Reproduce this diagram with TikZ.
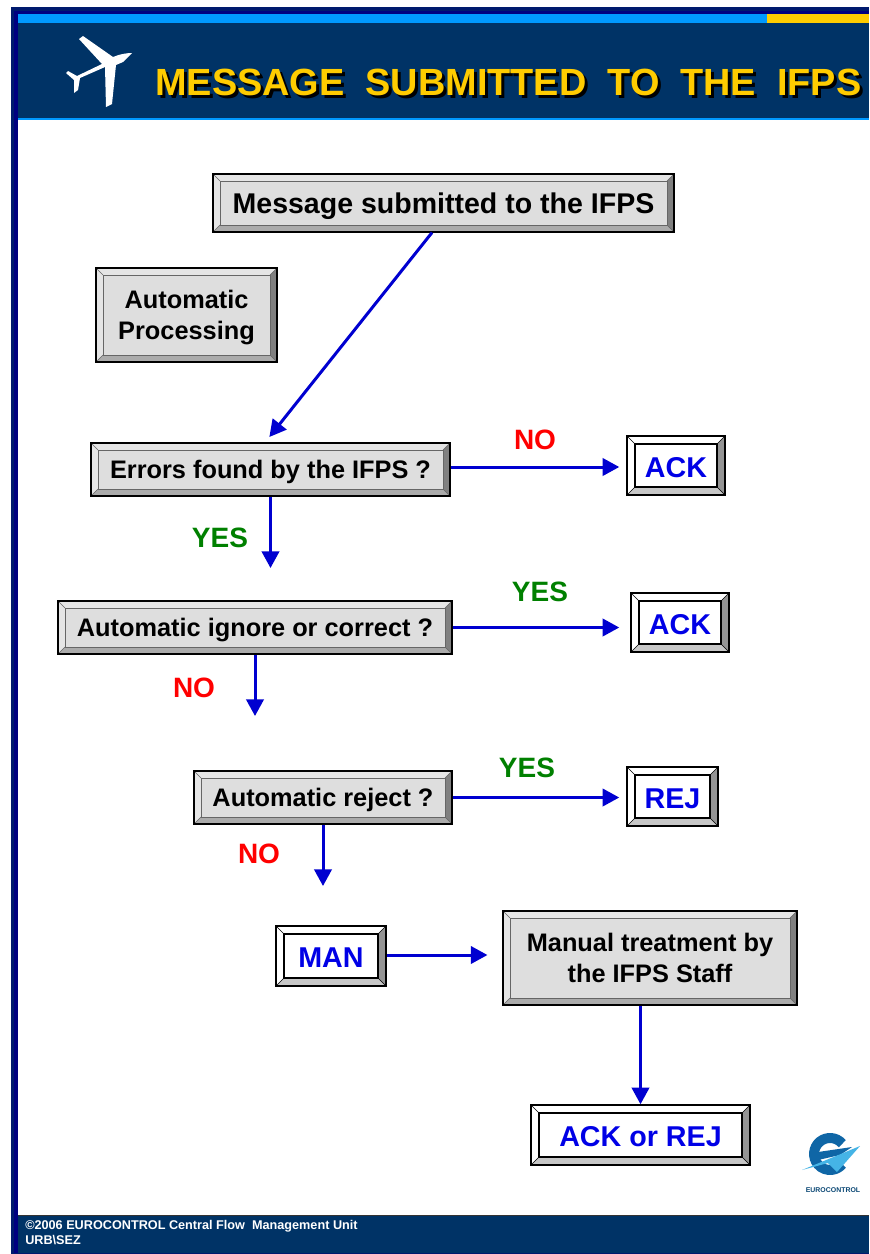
\documentclass[tikz,border=0pt]{standalone}
\usepackage{fontspec}
\setmainfont{Liberation Sans}
\usepackage{xcolor}
\usetikzlibrary{arrows.meta}
\usetikzlibrary{calc}

\definecolor{headblue}{HTML}{003366}
\definecolor{edgeblue}{HTML}{001A6E}
\definecolor{barblue}{HTML}{0099FF}
\definecolor{baryellow}{HTML}{FFCC00}
\definecolor{flowblue}{HTML}{0000D0}
\definecolor{textblue}{HTML}{0000E6}
\definecolor{okgreen}{HTML}{008000}
\definecolor{logoblue}{HTML}{0F66A6}
\definecolor{logolight}{HTML}{45B4E6}

\begin{document}
\begin{tikzpicture}[
  x=0.75pt, y=-0.75pt,
  font=\bfseries,
  sized/.style 2 args={minimum width=#1*0.75pt, minimum height=#2*0.75pt},
  bevel/.style n args={7}{path picture={
    \coordinate (nw) at (path picture bounding box.north west);
    \coordinate (ne) at (path picture bounding box.north east);
    \coordinate (sw) at (path picture bounding box.south west);
    \coordinate (se) at (path picture bounding box.south east);
    \coordinate (inw) at ($(nw)+(#1,-#1)$);
    \coordinate (ine) at ($(ne)+(-#1,-#1)$);
    \coordinate (isw) at ($(sw)+(#1,#1)$);
    \coordinate (ise) at ($(se)+(-#1,#1)$);
    \fill[#2] (nw) -- (ne) -- (ine) -- (inw) -- cycle;
    \fill[#3] (nw) -- (sw) -- (isw) -- (inw) -- cycle;
    \fill[#4] (sw) -- (se) -- (ise) -- (isw) -- cycle;
    \fill[#5] (ne) -- (se) -- (ise) -- (ine) -- cycle;
    \draw[#6, line width=#7] (inw) -- (ine) -- (ise) -- (isw) -- cycle;
    \draw[#6, line width=0.4pt] (nw) -- (inw) (ne) -- (ine) (sw) -- (isw) (se) -- (ise);
  }},
  graybox/.style={draw=black, line width=0.8pt, fill=black!13, inner sep=0pt, align=center,
    text depth=0pt, font=\bfseries\fontsize{19}{23.5}\selectfont,
    bevel={5.25pt}{black!10}{black!10}{black!33}{black!50}{black!60}{0.5pt}},
  whitebox/.style={draw=black, line width=1.1pt, fill=white, inner sep=0pt, text=textblue,
    text height=17.5pt, text depth=0pt, font=\bfseries\fontsize{21.5}{26}\selectfont,
    bevel={6pt}{white}{white}{black!22}{black!42}{black}{0.8pt}},
  answer/.style={font=\bfseries\fontsize{21}{25}\selectfont, inner sep=0pt},
  arrow/.style={-{Triangle[length=12.5pt,width=13pt]}, line width=2.25pt, flowblue},
  title/.style={anchor=base west, inner sep=0pt, font=\bfseries\fontsize{28.4}{34}\selectfont},
  foot/.style={anchor=base west, inner sep=0pt, text=white, font=\bfseries\fontsize{9.5}{11}\selectfont}
]
\useasboundingbox (0,0) rectangle (869,1254);

% --- Page frame and title band ---
\fill[edgeblue] (11,7) rectangle (869,1254);
\fill[blue!50!black] (14,11) rectangle (869,1253);
\fill[white] (18,119) rectangle (869,1215);
\fill[headblue] (18,14) rectangle (869,118);
\fill[barblue] (18,14) rectangle (767,23);
\fill[baryellow] (767,14) rectangle (869,23);
\fill[barblue] (18,118) rectangle (869,119.5);
\fill[headblue] (18,1215) rectangle (869,1253);
\draw[black!80, line width=0.6pt] (18,1215) -- (869,1215);

% --- Aeroplane ---
\fill[white] (79,39) -- (83,36) -- (113,57) .. controls (120,54) and (127,53) .. (132,53)
  -- (123,62) -- (116,65) -- (112,104) -- (106,107) -- (105,67) -- (80,78) -- (78,90)
  -- (74,93) -- (74,80) -- (66,73) -- (68,71) -- (77,76) -- (102,64) -- cycle;

% --- Title ---
\node[title, text=black] (titleshadow) at (158,98) {MESSAGE\ \ SUBMITTED\ \ TO\ \ THE\ \ IFPS};
\node[title, text=baryellow] (titletext) at (155,95) {MESSAGE\ \ SUBMITTED\ \ TO\ \ THE\ \ IFPS};

% --- Grey boxes ---
\node[graybox, sized={461}{58}, font=\bfseries\fontsize{21.4}{26}\selectfont] (message) at (443.5,203) {Message submitted to the IFPS};
\node[graybox, sized={181}{94}] (auto) at (186.5,315) {Automatic\\Processing};
\node[graybox, sized={359}{53}] (errors) at (270.5,469.5) {Errors found by the IFPS ?};
\node[graybox, sized={394}{53}] (ignore) at (255,627.5) {Automatic ignore or correct ?};
\node[graybox, sized={258}{53}] (reject) at (323,797.5) {Automatic reject ?};
\node[graybox, sized={294}{94}] (manual) at (650,958) {Manual treatment by\\the IFPS Staff};

% --- White answer boxes ---
\node[whitebox, sized={98}{59}] (ackone) at (676,465.5) {ACK};
\node[whitebox, sized={98}{59}] (acktwo) at (680,622.5) {ACK};
\node[whitebox, sized={91}{59}] (rej) at (672.5,796.5) {REJ};
\node[whitebox, sized={110}{60}] (man) at (331,956) {MAN};
\node[whitebox, sized={219}{60}] (ackrej) at (640.5,1135) {ACK or REJ};

% --- Free ends of the downward arrows ---
\coordinate (errorsend) at (270.5,568);
\coordinate (ignoreend) at (255,716);
\coordinate (rejectend) at (323,886);

% --- Arrows ---
\draw[arrow, shorten >=5.25pt] ($(message.south)+(-11.5,0)$) -- ($(errors.north)+(-5.5,0)$);
\draw[arrow] (errors.south) -- (errorsend);
\draw[arrow] (ignore.south) -- (ignoreend);
\draw[arrow] (reject.south) -- (rejectend);
\draw[arrow, shorten >=5.25pt] ($(errors.east |- ackone)+(0,1.5)$) -- ($(ackone.west)+(0,1.5)$);
\draw[arrow, shorten >=8.25pt] (ignore.east) -- (ignore.east -| acktwo.west);
\draw[arrow, shorten >=5.25pt] (reject.east) -- (reject.east -| rej.west);
\draw[arrow, shorten >=11.25pt] ($(man.east)+(0,-1)$) -- ($(man.east -| manual.west)+(0,-1)$);
\draw[arrow] (manual.south -| ackrej) -- (ackrej.north);

% --- Answer labels ---
\node[answer, text=red] (noone) at (535,440) {NO};
\node[answer, text=okgreen] (yesone) at (220,538) {YES};
\node[answer, text=okgreen] (yestwo) at (540,592) {YES};
\node[answer, text=red] (notwo) at (194,688) {NO};
\node[answer, text=okgreen] (yesthree) at (527,768) {YES};
\node[answer, text=red] (nothree) at (259,854) {NO};

% --- Logo ---
\draw[logoblue, line width=7.5pt] (842.3,1143.7) arc[start angle=-40, end angle=-320, radius=16];
\fill[logoblue] (818,1152) -- (852,1147) -- (840,1155) -- (818,1160) -- cycle;
\fill[logolight] (802,1170) -- (860,1146) -- (837,1172) -- (828,1163) -- cycle;
\node[inner sep=0pt, text=logoblue!70!black, font=\bfseries\fontsize{5.2}{6}\selectfont] (logotext) at (833,1190) {EUROCONTROL};

% --- Footer ---
\node[foot] (footone) at (25,1229) {©2006 EUROCONTROL Central Flow\ \ Management Unit};
\node[foot] (foottwo) at (25,1244) {URB\textbackslash SEZ};

\end{tikzpicture}
\end{document}
